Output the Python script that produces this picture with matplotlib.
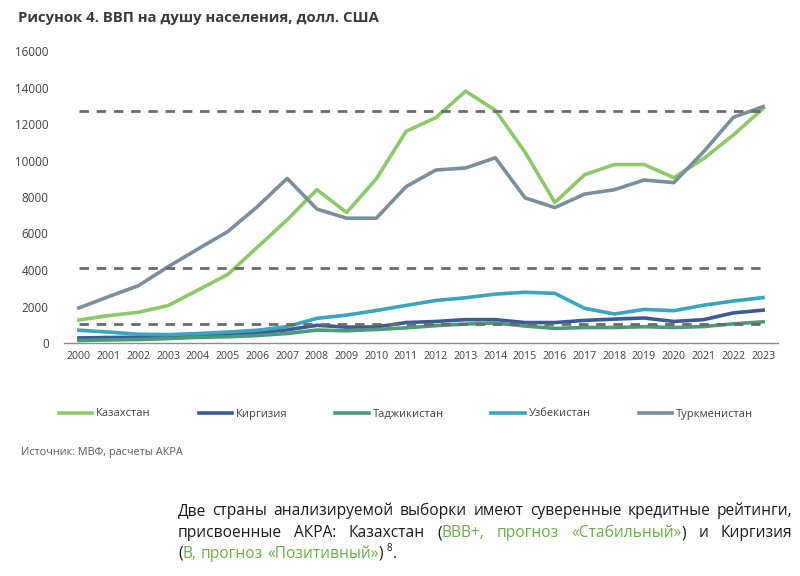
import matplotlib
matplotlib.use('Agg')
import matplotlib.pyplot as plt
import numpy as np

plt.rcParams['font.family'] = ['Open Sans', 'DejaVu Sans']

years = [str(y) for y in range(2000, 2024)]
kazakhstan = [1260, 1500, 1680, 2050, 2900, 3750, 5250, 6750, 8400, 7150, 9000, 11600,
              12350, 13800, 12750, 10450, 7700, 9220, 9780, 9780, 9060, 10100, 11400, 12850]
kyrgyzstan = [280, 300, 320, 380, 430, 480, 550, 720, 970, 870, 880, 1120,
              1180, 1280, 1280, 1120, 1120, 1240, 1310, 1370, 1180, 1280, 1650, 1800]
tajikistan = [140, 170, 190, 240, 310, 340, 410, 520, 710, 670, 740, 830,
              950, 1040, 1100, 930, 800, 850, 850, 890, 850, 900, 1050, 1160]
uzbekistan = [700, 600, 480, 460, 520, 600, 700, 900, 1350, 1530, 1780, 2060,
              2330, 2480, 2680, 2780, 2720, 1900, 1590, 1840, 1770, 2070, 2300, 2490]
turkmenistan = [1920, 2540, 3140, 4180, 5150, 6100, 7470, 9020, 7340, 6840, 6840, 8570,
                9480, 9590, 10150, 7950, 7420, 8160, 8400, 8930, 8790, 10480, 12370, 12950]
thresholds = [1045, 4095, 12695]

names = ['Казахстан', 'Киргизия', 'Таджикистан', 'Узбекистан', 'Туркменистан']
series = [kazakhstan, kyrgyzstan, tajikistan, uzbekistan, turkmenistan]
colors = ['#8dc96b', '#3b5b98', '#4c9a77', '#3ba4be', '#7a8f9b']

W, H = 800, 576
fig = plt.figure(figsize=(8, 5.76), dpi=100)
ax = fig.add_axes([64 / W, 1 - 343 / H, (778 - 64) / W, (343 - 51) / H])

x = np.arange(len(years))
handles = []
for name, vals, c in zip(names, series, colors):
    h, = ax.plot(x, vals, color=c, lw=2.6, solid_joinstyle='round', label=name)
    handles.append(h)
for t in thresholds:
    ax.plot(x, [t] * len(x), color='#6b6b6b', lw=2, dashes=(3.4, 2.8), zorder=5)

ax.set_xlim(-0.5, len(years) - 0.5)
ax.set_ylim(0, 16000)
ax.set_yticks(range(0, 16001, 2000))
ax.set_xticks(x)
ax.set_xticklabels(years, fontsize=7.7)
ax.tick_params(axis='y', length=0, pad=11, labelsize=8.4, labelcolor='#404040')
ax.tick_params(axis='x', length=0, pad=6, labelcolor='#404040')
for s in ['top', 'right', 'left']:
    ax.spines[s].set_visible(False)
ax.spines['bottom'].set_color('#8c8c8c')
ax.spines['bottom'].set_linewidth(1)

fig.text(18 / W, 1 - 18 / H, 'Рисунок 4. ВВП на душу населения, долл. США',
         fontsize=10.7, fontweight='bold', color='#3a3a3a', va='center', ha='left')

fig.legend(handles=handles, loc='center left', bbox_to_anchor=(59 / W, 1 - 414 / H),
           ncol=5, frameon=False, fontsize=8, handlelength=3.0, handletextpad=0.35,
           columnspacing=4.3, borderpad=0, borderaxespad=0, labelcolor='#404040')

fig.text(21 / W, 1 - 452 / H, 'Источник: МВФ, расчеты АКРА', fontsize=7.8,
         color='#595959', va='center', ha='left')

# justified paragraph
green = '#6aae45'
black = '#1a1a1a'
par_lines = [
    [[('Две', black)], [('страны', black)], [('анализируемой', black)], [('выборки', black)],
     [('имеют', black)], [('суверенные', black)], [('кредитные', black)], [('рейтинги,', black)]],
    [[('присвоенные', black)], [('АКРА:', black)], [('Казахстан', black)],
     [('(', black), ('ВВВ+,', green)], [('прогноз', green)],
     [('«Стабильный»', green), (')', black)], [('и', black)], [('Киргизия', black)]],
    [[('(', black), ('В,', green)], [('прогноз', green)], [('«Позитивный»', green), (')', black)],
     [('8', 'sup'), ('.', black)]],
]
baselines = [515, 537, 558]
x0, x1 = 178, 792
psize = 11.2
renderer = fig.canvas.get_renderer()


def width_of(s, size):
    t = fig.text(0, 0, s, fontsize=size)
    w = t.get_window_extent(renderer).width
    t.remove()
    return w


space = width_of('a a', psize) - width_of('aa', psize)
for i, (words, yb) in enumerate(zip(par_lines, baselines)):
    wlist = []
    for word in words:
        wsum = 0
        for s, c in word:
            wsum += width_of(s, 7 if c == 'sup' else psize)
        wlist.append(wsum)
    if i < len(par_lines) - 1:
        gap = (x1 - x0 - sum(wlist)) / (len(words) - 1)
    else:
        gap = space
    xp = x0
    for word, wsum in zip(words, wlist):
        xs = xp
        for s, c in word:
            if c == 'sup':
                fig.text(xs / W, 1 - (yb - 7) / H, s, fontsize=7, color=black, va='baseline')
                xs += width_of(s, 7)
            else:
                fig.text(xs / W, 1 - yb / H, s, fontsize=psize, color=c, va='baseline')
                xs += width_of(s, psize)
        xp += wsum + gap

fig.savefig('out.png', dpi=100)
